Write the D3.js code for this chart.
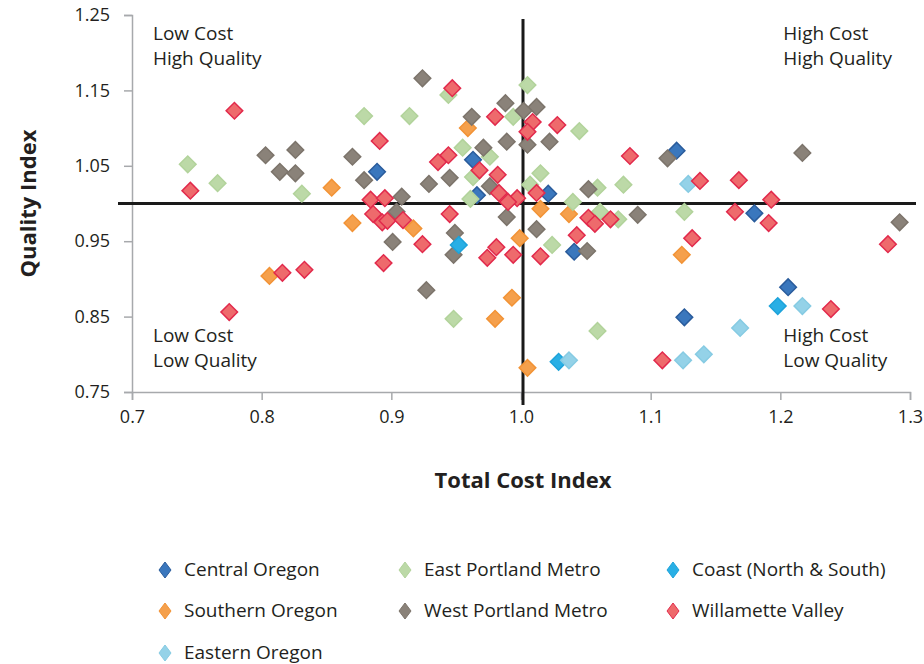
<!DOCTYPE html>
<html>
<head>
<meta charset="utf-8">
<script src="https://cdn.jsdelivr.net/npm/d3@7"></script>
<style>
  body { margin: 0; background: #fff; }
  svg text { font-family: "Open Sans", "Noto Sans", sans-serif; fill: #231f20; }
</style>
</head>
<body>
<div id="chart"></div>
<script>
// values: [total cost index, quality index]
const centralOregon = [[0.889,1.042],[0.963,1.058],[0.966,1.011],[1.021,1.013],[1.120,1.070],
  [1.180,0.987],[1.041,0.936],[1.206,0.889],[1.126,0.849]];
const southernOregon = [[0.854,1.021],[0.870,0.974],[0.806,0.904],[0.959,1.100],[0.917,0.967],
  [0.999,0.954],[0.993,0.875],[0.980,0.847],[1.005,0.782],[1.015,0.993],[1.037,0.986],[1.124,0.932]];
const eastPortland = [[0.743,1.052],[0.766,1.027],[0.831,1.013],[0.879,1.116],[0.914,1.116],
  [0.944,1.144],[0.955,1.074],[0.976,1.062],[0.963,1.035],[1.005,1.157],[0.994,1.115],[1.045,1.096],
  [1.015,1.040],[1.007,1.025],[1.059,1.021],[1.079,1.025],[1.040,1.002],[1.061,0.989],[1.075,0.979],
  [1.024,0.945],[1.126,0.989],[0.961,1.006],[0.948,0.847],[1.059,0.831]];
const westPortland = [[0.803,1.064],[0.826,1.071],[0.814,1.042],[0.826,1.040],[0.870,1.062],
  [0.879,1.031],[0.924,1.166],[0.988,1.133],[1.012,1.128],[1.002,1.123],[0.962,1.115],[0.989,1.082],
  [1.022,1.082],[1.005,1.078],[0.971,1.074],[0.929,1.026],[0.945,1.034],[0.976,1.023],[1.052,1.019],
  [1.113,1.060],[1.217,1.067],[1.292,0.975],[1.090,0.985],[1.012,0.966],[1.051,0.937],[0.908,1.009],
  [0.904,0.989],[0.989,0.982],[0.949,0.961],[0.901,0.949],[0.948,0.932],[0.927,0.885]];
const coast = [[0.952,0.945],[1.029,0.790],[1.198,0.864]];
const easternOregon = [[1.037,0.792],[1.129,1.026],[1.217,0.864],[1.169,0.835],[1.125,0.792],[1.141,0.800]];
const willamette = [[0.779,1.123],[0.745,1.017],[0.816,0.908],[0.833,0.912],[0.775,0.856],
  [0.884,1.005],[0.895,1.007],[0.886,0.986],[0.893,0.975],[0.897,0.977],[0.909,0.978],[0.945,0.986],
  [0.924,0.946],[0.894,0.921],[0.981,0.942],[0.974,0.928],[0.994,0.932],[0.983,1.014],[0.997,1.007],
  [0.990,1.002],[1.012,1.014],[1.043,0.958],[1.015,0.930],[1.052,0.981],[1.057,0.973],[1.069,0.979],
  [1.132,0.954],[1.138,1.030],[1.168,1.031],[1.165,0.989],[1.193,1.005],[1.191,0.974],[1.283,0.946],
  [1.239,0.860],[1.109,0.792],[1.009,1.108],[1.005,1.095],[1.028,1.104],[1.084,1.063],[0.891,1.083],
  [0.947,1.153],[0.980,1.115],[0.936,1.055],[0.944,1.064],[0.968,1.044],[0.982,1.038]];

const legendNames = ["Central Oregon", "East Portland Metro", "Coast (North & South)",
  "Southern Oregon", "West Portland Metro", "Willamette Valley", "Eastern Oregon"];
const xTicks = [0.7, 0.8, 0.9, 1.0, 1.1, 1.2, 1.3];
const yTicks = [0.75, 0.85, 0.95, 1.05, 1.15, 1.25];
const quadrantLabels = [
  {x: 0.7, y: 1.25, lines: ["Low Cost", "High Quality"]},
  {x: 1.2, y: 1.25, lines: ["High Cost", "High Quality"]},
  {x: 0.7, y: 0.85, lines: ["Low Cost", "Low Quality"]},
  {x: 1.2, y: 0.85, lines: ["High Cost", "Low Quality"]}
];

// colours per region
const styles = {
  "Central Oregon":        {fill: "#3a77bd", stroke: "#2a5c9c"},
  "East Portland Metro":   {fill: "#bcd9a7", stroke: "#b2d39b"},
  "Coast (North & South)": {fill: "#29afe5", stroke: "#1ea3da"},
  "Southern Oregon":       {fill: "#f5a04c", stroke: "#f29336"},
  "West Portland Metro":   {fill: "#8a8279", stroke: "#7c746b"},
  "Willamette Valley":     {fill: "#ee6a6c", stroke: "#e22a4c"},
  "Eastern Oregon":        {fill: "#94d2e8", stroke: "#86cbe3"}
};

// drawing order (later = on top)
const series = [
  {name: "Central Oregon", data: centralOregon},
  {name: "Southern Oregon", data: southernOregon},
  {name: "East Portland Metro", data: eastPortland},
  {name: "West Portland Metro", data: westPortland},
  {name: "Coast (North & South)", data: coast},
  {name: "Eastern Oregon", data: easternOregon},
  {name: "Willamette Valley", data: willamette}
];

const W = 924, H = 664;
const plot = {left: 132, right: 910, top: 15, bottom: 392};

const svg = d3.select("#chart").append("svg")
  .attr("width", W).attr("height", H);

let x = d3.scaleLinear().domain([0.7, 1.3]).range([plot.left, plot.right]);
let y = d3.scaleLinear().domain([0.75, 1.25]).range([plot.bottom, plot.top]);

// axes
let xAxis = svg.append("g")
  .attr("transform", `translate(0, ${plot.bottom})`)
  .call(d3.axisBottom(x).tickValues(xTicks).tickFormat(d3.format(".1f")).tickSizeOuter(0).tickSize(8).tickPadding(10));
let yAxis = svg.append("g")
  .attr("transform", `translate(${plot.left}, 0)`)
  .call(d3.axisLeft(y).tickValues(yTicks).tickFormat(d3.format(".2f")).tickSizeOuter(0).tickSize(8).tickPadding(14));

[xAxis, yAxis].forEach(function(a) {
  a.select(".domain").attr("stroke", "#a7a9ac").attr("stroke-width", 1.5);
  a.selectAll(".tick line").attr("stroke", "#a7a9ac").attr("stroke-width", 1.5);
  a.selectAll(".tick text")
    .style("font-family", '"Open Sans", sans-serif')
    .style("font-size", "18px")
    .attr("fill", "#231f20");
});

// quadrant divider lines
svg.append("line")
  .attr("x1", plot.left - 14).attr("x2", plot.right + 6)
  .attr("y1", y(1.0)).attr("y2", y(1.0))
  .attr("stroke", "#1a1a1a").attr("stroke-width", 3);
svg.append("line")
  .attr("x1", x(1.0) + 2).attr("x2", x(1.0) + 2)
  .attr("y1", plot.top + 4).attr("y2", plot.bottom + 13)
  .attr("stroke", "#1a1a1a").attr("stroke-width", 3);

// quadrant labels
quadrantLabels.forEach(function(q) {
  let t = svg.append("text")
    .attr("y", y(q.y) + 25)
    .style("font-size", "19px");
  q.lines.forEach(function(l, i) {
    t.append("tspan").attr("x", x(q.x) + (q.x < 1 ? 21 : 3)).attr("dy", i == 0 ? 0 : 25).text(l);
  });
});

// diamonds
const diamond = d3.symbol().type(d3.symbolSquare).size(138);
series.forEach(function(s) {
  svg.append("g").selectAll("path")
    .data(s.data)
    .enter()
    .append("path")
    .attr("d", diamond)
    .attr("transform", function(d) { return `translate(${x(d[0])}, ${y(d[1])}) rotate(45)`; })
    .attr("fill", styles[s.name].fill)
    .attr("stroke", styles[s.name].stroke)
    .attr("stroke-width", 1.5);
});

// axis titles
svg.append("text")
  .attr("x", (plot.left + plot.right) / 2 + 2)
  .attr("y", 488)
  .style("text-anchor", "middle")
  .style("font-size", "22px")
  .style("font-weight", "bold")
  .text("Total Cost Index");
svg.append("text")
  .attr("transform", `translate(36, ${y(1.0)}) rotate(-90)`)
  .style("text-anchor", "middle")
  .style("font-size", "22px")
  .style("font-weight", "bold")
  .text("Quality Index");

// legend, 3 columns
const colX = [165, 405, 673];
const rowY = [570, 611, 653];
let legend = svg.append("g").selectAll("g")
  .data(legendNames)
  .enter()
  .append("g")
  .attr("transform", function(d, i) { return `translate(${colX[i % 3]}, ${rowY[Math.floor(i / 3)]})`; });
legend.append("path")
  .attr("d", "M0,-8L6,0L0,8L-6,0Z")
  .attr("fill", function(d) { return styles[d].fill; })
  .attr("stroke", function(d) { return styles[d].stroke; })
  .attr("stroke-width", 1);
legend.append("text")
  .attr("x", 19)
  .attr("y", 6)
  .style("font-size", "19px")
  .text(function(d) { return d; });
</script>
</body>
</html>
